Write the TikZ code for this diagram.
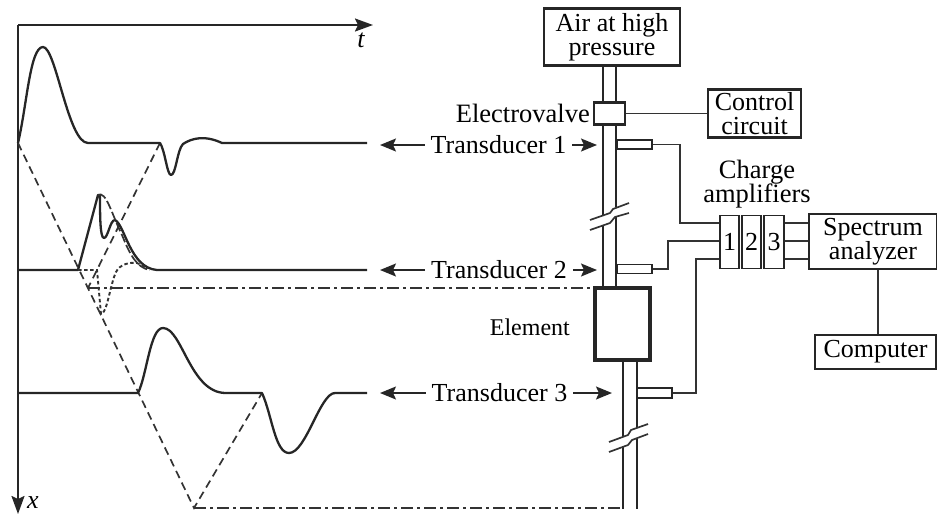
\documentclass[tikz,border=0pt]{standalone}
\usepackage{fontspec}
\setmainfont{Liberation Serif}
\usetikzlibrary{arrows.meta}
\tikzset{
  lbl/.style={inner sep=0pt,font=\fontsize{26.5}{26.5}\selectfont,align=center},
  boxn/.style={draw=black!85,line width=2.2pt,inner sep=0pt,align=center,font=\fontsize{26}{24.5}\selectfont,fill=white},
  wave/.style={line width=2.3pt,black!85,line join=round},
  ddash/.style={line width=1.7pt,black!80,dash pattern=on 8pt off 5pt},
  ddot/.style={line width=1.9pt,black!80,dash pattern=on 3.5pt off 2.5pt},
  dchain/.style={line width=1.6pt,black!80,dash pattern=on 12pt off 4pt on 3pt off 4pt},
  pipe/.style={line width=2.3pt,black!85},
  wire/.style={line width=1.7pt,black!80},
  arr/.style={line width=1.6pt,black!85,-{Stealth[length=16pt,width=13pt,inset=3pt]}},
  axisl/.style={line width=2pt,black!85,-{Stealth[length=18pt,width=13pt,inset=3pt]}}
}
\begin{document}
\begin{tikzpicture}[x=1pt,y=-1pt]
\useasboundingbox (0,0) rectangle (937,515);
% axes
\coordinate (O) at (18,25);
\coordinate (T) at (373,25);
\coordinate (X) at (18,514);
\draw[axisl] (O) -- (T);
\draw[axisl] (O) -- (X);
\node[lbl,font=\fontsize{26}{26}\selectfont\itshape] (tl) at (361,40) {t};
\node[lbl,font=\fontsize{26}{26}\selectfont\itshape] (xl) at (33,503) {x};
% characteristic lines
\coordinate (A0) at (18,143);
\coordinate (A1) at (194,508);
\coordinate (B0) at (160,143);
\coordinate (B1) at (88,288);
\coordinate (C0) at (262,393);
\draw[ddash] (A0) -- (A1) -- (C0);
\draw[ddash] (B0) -- (B1);
\coordinate (D0) at (595,288);
\coordinate (D1) at (622,508);
\draw[dchain] (B1) -- (D0);
\draw[dchain] (A1) -- (D1);
% waves
\draw[wave] (18,143) .. controls (27,105) and (30,47) .. (43,47)
  .. controls (56,47) and (68,143) .. (88,143) -- (160,143)
  .. controls (165,150) and (167,175) .. (171,175)
  .. controls (176,175) and (177,150) .. (183,144)
  .. controls (192,138) and (205,135) .. (222,143) -- (367,143);
\draw[wave] (18,270) -- (78,270) -- (98,195) -- (100,195)
  .. controls (100,215) and (100,238) .. (104,238)
  .. controls (108,238) and (110,220) .. (115,220)
  .. controls (125,225) and (130,268) .. (157,270) -- (367,270);
\draw[ddash,dash pattern=on 9pt off 3pt] (98,195) .. controls (106,190) and (112,215) .. (122,235)
  .. controls (130,255) and (137,268) .. (150,270);
\draw[ddot] (78,270) -- (97,270) -- (101,314)
  .. controls (107,314) and (110,285) .. (116,272)
  .. controls (120,264) and (130,262) .. (137,263) -- (148,268);
\draw[wave] (18,393) -- (138,393) .. controls (147,375) and (150,328) .. (163,328)
  .. controls (182,328) and (190,392) .. (225,393) -- (262,393)
  .. controls (272,415) and (275,453) .. (289,453)
  .. controls (306,453) and (320,393) .. (335,393) -- (367,393);
% pipes
\draw[pipe] (603,65) -- (603,216) (603,226) -- (603,288);
\draw[pipe] (616,65) -- (616,207) (616,216) -- (616,288);
\draw[pipe] (623,360) -- (623,437) (623,447) -- (623,509);
\draw[pipe] (637,360) -- (637,428) (637,438) -- (637,509);
% break marks
\draw[wire] (590,220) -- (610,213) -- (613,209) -- (629,203);
\draw[wire] (590,230) -- (610,223) -- (615,217) -- (629,213);
\draw[wire] (609,442) -- (628,435) -- (631,430) -- (648,424);
\draw[wire] (609,452) -- (628,445) -- (632,440) -- (648,434);
% boxes
\node[boxn,minimum width=136pt,minimum height=57pt] (air) at (612,37) {Air at high\\pressure};
\node[boxn,minimum width=31pt,minimum height=22pt] (valve) at (609.5,113.5) {};
\node[boxn,minimum width=93pt,minimum height=48pt] (ctrl) at (754.5,113.5) {Control\\circuit};
\node[boxn,line width=3.2pt,minimum width=55pt,minimum height=72pt] (elem) at (622.5,324) {};
\node[boxn,line width=1.9pt,minimum width=35pt,minimum height=9pt] (s1) at (634.5,144.5) {};
\node[boxn,line width=1.9pt,minimum width=35pt,minimum height=9pt] (s2) at (634.5,269) {};
\node[boxn,line width=1.9pt,minimum width=35pt,minimum height=10pt] (s3) at (654.5,393) {};
\node[boxn,line width=1.7pt,minimum width=19pt,minimum height=53pt] (a1) at (729.5,242) {1};
\node[boxn,line width=1.7pt,minimum width=19pt,minimum height=53pt] (a2) at (751.5,242) {2};
\node[boxn,line width=1.7pt,minimum width=20pt,minimum height=53pt] (a3) at (774,242) {3};
\node[boxn,minimum width=128pt,minimum height=55pt] (spec) at (873,241.5) {Spectrum\\analyzer};
\node[boxn,minimum width=121pt,minimum height=34pt] (comp) at (875.5,352) {Computer};
% wires
\draw[wire] (valve.east) -- (ctrl.west);
\draw[wire] (s1.east) -| (680,223) -- (a1.west |- 0,223);
\draw[wire] (s2.east) -| (668,241) -- (a1.west |- 0,241);
\draw[wire] (s3.east) -| (696,259) -- (a1.west |- 0,259);
\draw[wire] (a3.east |- 0,223) -- (spec.west |- 0,223);
\draw[wire] (a3.east |- 0,241) -- (spec.west |- 0,241);
\draw[wire] (a3.east |- 0,259) -- (spec.west |- 0,259);
\draw[wire] (spec.south -| 878,0) -- (comp.north -| 878,0);
% labels
\node[lbl,anchor=east] (ev) at (590,113) {Electrovalve};
\node[lbl,anchor=east,font=\fontsize{24}{24}\selectfont] (el) at (570,327) {Element};
\node[lbl] (ch) at (757,184) {Charge\\[-2pt]amplifiers};
\node[lbl,font=\fontsize{26}{26}\selectfont] (t1) at (498.5,145) {Transducer 1};
\node[lbl,font=\fontsize{26}{26}\selectfont] (t2) at (499,270) {Transducer 2};
\node[lbl,font=\fontsize{26}{26}\selectfont] (t3) at (499.5,393) {Transducer 3};
\coordinate (l1) at (380,145); \coordinate (r1) at (597,145);
\coordinate (l2) at (380,270); \coordinate (r2) at (597,270);
\coordinate (l3) at (380,393); \coordinate (r3) at (612,393);
\draw[arr] (t1.west) ++(-6,0) -- (l1);
\draw[arr] (t1.east) ++(6,0) -- (r1);
\draw[arr] (t2.west) ++(-6,0) -- (l2);
\draw[arr] (t2.east) ++(6,0) -- (r2);
\draw[arr] (t3.west) ++(-6,0) -- (l3);
\draw[arr] (t3.east) ++(6,0) -- (r3);
\end{tikzpicture}
\end{document}
